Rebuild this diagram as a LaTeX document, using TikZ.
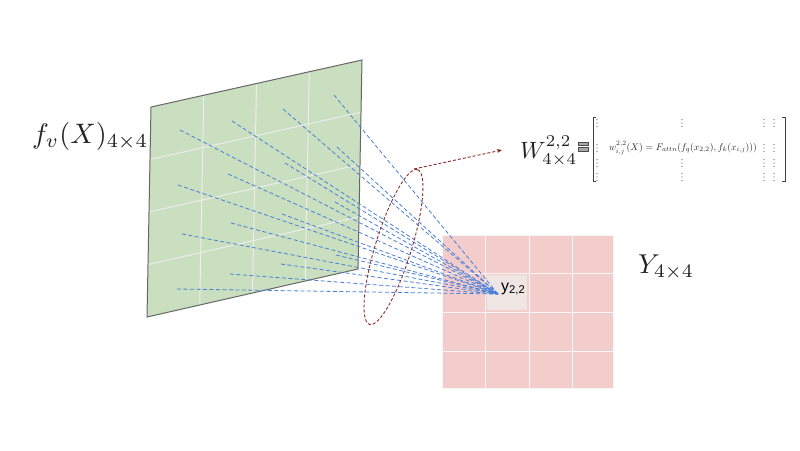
\documentclass[tikz,border=0pt]{standalone}
\usepackage{fontspec}
\setsansfont{Liberation Sans}
\usepackage{graphicx}
\usetikzlibrary{arrows.meta,calc}
\definecolor{panelgreen}{HTML}{C9DFBF}
\definecolor{panelpink}{HTML}{F2CDCC}
\definecolor{cellgray}{HTML}{EFE6E4}
\definecolor{rayblue}{HTML}{4A7FD8}
\definecolor{darkred}{HTML}{8E2A2A}
\definecolor{txt}{HTML}{222222}
\tikzset{
  ray/.style={rayblue, dashed, dash pattern=on 4pt off 2.5pt, line width=0.8pt},
  gridline/.style={white!93!black, line width=1pt},
  pinkline/.style={white!96!black, line width=1pt},
  ringstyle/.style={darkred, dash pattern=on 3pt off 2pt, line width=0.9pt},
  lbl/.style={inner sep=0pt, text=txt},
  dotfill/.style={fill=black!60},
  brk/.style={black!75, line width=0.8pt}
}
\newcommand{\vdotgroup}[2]{%
  \fill[dotfill] (#1,#2-3.5) circle (0.55pt);
  \fill[dotfill] (#1,#2) circle (0.55pt);
  \fill[dotfill] (#1,#2+3.5) circle (0.55pt);}
\begin{document}
\begin{tikzpicture}[x=1pt,y=-1pt]
\useasboundingbox (0,0) rectangle (800,450);
% green panel
\coordinate (TL) at (151,107);
\coordinate (TR) at (362,60);
\coordinate (BR) at (358,269);
\coordinate (BL) at (147,317);
\fill[panelgreen] (TL) -- (TR) -- (BR) -- (BL) -- cycle;
\foreach \t in {0.25,0.5,0.75}{
  \draw[gridline] ($(TL)!\t!(TR)$) -- ($(BL)!\t!(BR)$);
  \draw[gridline] ($(TL)!\t!(BL)$) -- ($(TR)!\t!(BR)$);
}
\draw[black!60, line width=1pt] (TL) -- (TR) -- (BR) -- (BL) -- cycle;
% pink grid
\fill[panelpink] (442,235) rectangle (613,388);
\foreach \x in {485,529,572}{ \draw[pinkline] (\x,235) -- (\x,388); }
\foreach \y in {273,312,351}{ \draw[pinkline] (442,\y) -- (613,\y); }
\draw[pinkline] (442,235) rectangle (613,388);
\fill[cellgray] (487,275) rectangle (527,310);
% start points
\coordinate (s11) at (180,130); \coordinate (s12) at (232,121); \coordinate (s13) at (283,109); \coordinate (s14) at (334,95);
\coordinate (s21) at (178,185); \coordinate (s22) at (228,174); \coordinate (s23) at (285,163); \coordinate (s24) at (337,147);
\coordinate (s31) at (182,234); \coordinate (s32) at (231,223); \coordinate (s33) at (282,214); \coordinate (s34) at (335,202);
\coordinate (s41) at (177,289); \coordinate (s42) at (230,274); \coordinate (s43) at (281,264); \coordinate (s44) at (336,255);
\coordinate (tip) at (498,294);
\foreach \i in {1,2,3,4}{\foreach \j in {1,2,3,4}{ \draw[ray] (s\i\j) -- (tip); }}
\node[lbl, anchor=base west, text=black, font=\sffamily\fontsize{16}{16}\selectfont] (y22) at (501,291) {y\textsubscript{2,2}};
% ring
\coordinate (ring) at (393.5,247);
\draw[ringstyle, rotate around={72.8:(ring)}] (ring) ellipse [x radius=81pt, y radius=18pt];
\coordinate (ringtop) at (414,169);
\coordinate (warr) at (502,150);
\draw[ringstyle, -{Stealth[length=5pt,width=4pt]}] (ringtop) -- (warr);
% labels
\node[lbl, anchor=base west] (fvx) at (32,143) {\resizebox{116pt}{!}{$f_v(X)_{4\times 4}$}};
\node[lbl, anchor=base west] (W) at (520,158) {\resizebox{57pt}{!}{$W^{2,2}_{4\times 4}$}};
\node[lbl, anchor=base west] (Y) at (638,273) {\resizebox{56pt}{!}{$Y_{4\times 4}$}};
% equals glyph
\draw[fill=black!35, draw=black!70, line width=0.5pt] (578,142) rectangle (588,145.5);
\draw[fill=black!35, draw=black!70, line width=0.5pt] (578,147.5) rectangle (588,151);
% matrix brackets
\draw[brk] (596,117) -- (593,117) -- (593,181) -- (596,181);
\draw[brk] (782,117) -- (785,117) -- (785,181) -- (782,181);
\node[lbl, text=black!85] (formula) at (683,148) {\resizebox{148pt}{!}{$w^{2,2}_{i,j}(X) = F_{attn}(f_q(x_{2,2}), f_k(x_{i,j})))$}};
\foreach \x in {597,764,774}{\foreach \y in {123,148,163,177}{ \vdotgroup{\x}{\y} }}
\foreach \y in {123,163,177}{ \vdotgroup{682}{\y} }
\end{tikzpicture}
\end{document}
